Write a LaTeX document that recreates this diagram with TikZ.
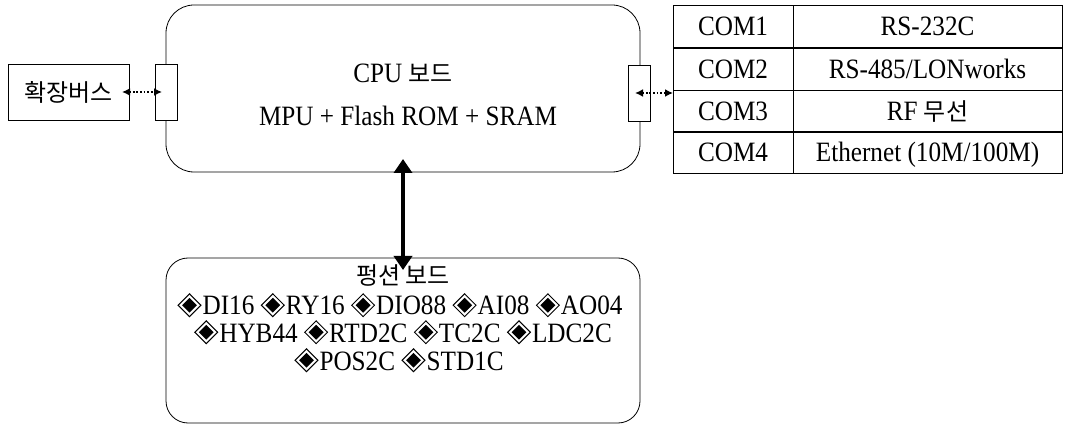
\documentclass[tikz,border=0pt]{standalone}
\usepackage{fontspec}
\usepackage{graphicx}
\setmainfont{Liberation Serif}[FakeStretch=0.9]
\newfontfamily\krf{Noto Sans CJK KR}
\usetikzlibrary{arrows.meta}
\newcommand\ko[1]{{\krf\fontsize{24}{24}\selectfont #1}}
\newcommand\dm{\rotatebox{45}{\setlength{\fboxsep}{2.3pt}\setlength{\fboxrule}{1pt}\fbox{\rule{10.5pt}{10.5pt}}}\kern1pt}
\begin{document}
\begin{tikzpicture}[x=1pt,y=-1pt,line width=0.8pt,
  font=\fontsize{28}{28}\selectfont,
  board/.style={draw,rectangle,inner sep=0pt,outer sep=0pt,minimum width=474pt},
  port/.style={draw,fill=white,rectangle,inner sep=0pt,outer sep=0pt,minimum width=22pt,minimum height=56pt},
  cellA/.style={draw,rectangle,inner sep=0pt,outer sep=0pt,minimum width=120pt,minimum height=42pt,text height=19pt,text depth=0pt},
  cellB/.style={draw,rectangle,inner sep=0pt,outer sep=0pt,minimum width=269pt,minimum height=42pt,text height=19pt,text depth=0pt},
  txt/.style={anchor=base,inner sep=0pt},
  dotarrow/.style={line width=1.6pt,dash pattern=on 1.8pt off 1.8pt,{Latex[length=8pt,width=8pt]}-{Latex[length=8pt,width=8pt]}},
  bigarrow/.style={line width=4.5pt,{Triangle[length=14pt,width=18pt]}-{Triangle[length=14pt,width=18pt]}}]
\useasboundingbox (0,0) rectangle (1078,427);
% CPU board
\node[board,minimum height=167pt,rounded corners=28pt] (cpu) at (403,88.5) {};
\node[txt] (cpu1) at (403,83) {CPU \ko{보드}};
\node[txt] (cpu2) at (408,126) {MPU + Flash ROM + SRAM};
% ports
\node[port] (lport) at (166,92) {};
\node[port] (rport) at (639,93) {};
% extension bus
\node[draw,rectangle,inner sep=0pt,outer sep=0pt,minimum width=121pt,minimum height=56pt] (ext) at (68.5,92) {\ko{확장버스}};
% table
\node[cellA] (c1a) at (733,26.5) {COM1};
\node[cellB] (c1b) at (927.5,26.5) {RS-232C};
\node[cellA] (c2a) at (733,69) {COM2};
\node[cellB] (c2b) at (927.5,69) {RS-485/LONworks};
\node[cellA] (c3a) at (733,111) {COM3};
\node[cellB] (c3b) at (927.5,111) {RF \ko{무선}};
\node[cellA] (c4a) at (733,152.5) {COM4};
\node[cellB] (c4b) at (927.5,152.5) {Ethernet (10M/100M)};
\coordinate (tabw) at (673,93);
% function board
\node[board,minimum height=165pt,rounded corners=22pt] (func) at (403,340.5) {};
\node[txt] (f1) at (403,285) {\ko{펑션 보드}};
\node[txt] (f2) at (400,315) {\dm DI16 \dm RY16 \dm DIO88 \dm AI08 \dm AO04};
\node[txt] (f3) at (403,342) {\dm HYB44 \dm RTD2C \dm TC2C \dm LDC2C};
\node[txt] (f4) at (399,370) {\dm POS2C \dm STD1C};
% connectors
\draw[dotarrow] ([xshift=-7pt]ext.east) -- ([xshift=-4pt]lport.center);
\draw[dotarrow] ([xshift=-4pt]rport.center) -- (tabw);
\draw[bigarrow] ([yshift=13pt]cpu.south) -- ([yshift=-12pt]func.north);
\end{tikzpicture}
\end{document}
